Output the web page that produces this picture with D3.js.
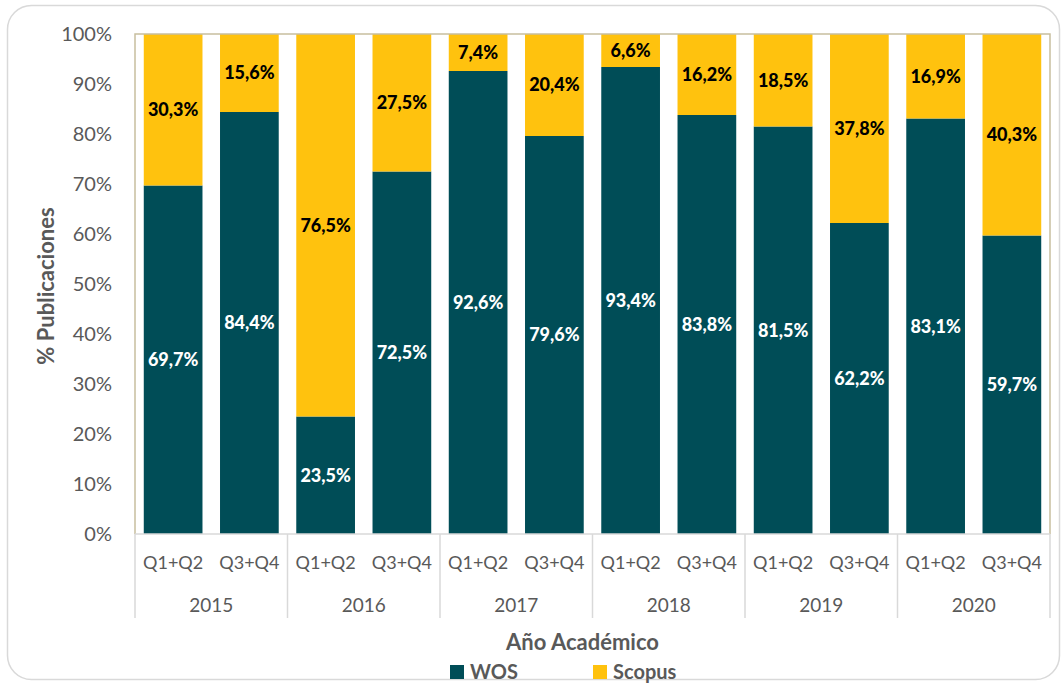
<!DOCTYPE html>
<html><head><meta charset="utf-8">
<script src="https://cdn.jsdelivr.net/npm/d3@7"></script>
<style>html,body{margin:0;padding:0;background:#fff;} text{font-family:Lato,"Open Sans",sans-serif;}</style>
</head><body>
<svg id="c" width="1064" height="684"></svg>
<script>
const years = ["2015","2016","2017","2018","2019","2020"];
const quarters = ["Q1+Q2","Q3+Q4"];
const wos = [69.7, 84.4, 23.5, 72.5, 92.6, 79.6, 93.4, 83.8, 81.5, 62.2, 83.1, 59.7];
const scopus = [30.3, 15.6, 76.5, 27.5, 7.4, 20.4, 6.6, 16.2, 18.5, 37.8, 16.9, 40.3];
const yTicks = [0,10,20,30,40,50,60,70,80,90,100];
const seriesNames = ["WOS","Scopus"];
const colors = ["#004d57","#ffc20e"];

const rows = [];
years.forEach((y,i)=>quarters.forEach((q,j)=>{const k=i*2+j; rows.push({key:k, year:y, q:q, wos:wos[k], scopus:scopus[k]});}));

const svg = d3.select("#c");
const L=135, R=1050, T=34, B=534;

svg.append("rect").attr("x",7.5).attr("y",5.5).attr("width",1052).attr("height",674).attr("rx",24)
  .attr("fill","#fff").attr("stroke","#d9d9d9").attr("stroke-width",1.5);

const x = d3.scaleBand().domain(rows.map(d=>d.key)).range([L,R]).paddingInner(0.23).paddingOuter(0.115);
const y = d3.scaleLinear().domain([0,100]).range([B,T]);

const stack = d3.stack().keys(["wos","scopus"])(rows);

svg.append("g").selectAll("g").data(stack).join("g").attr("fill",(d,i)=>colors[i])
  .selectAll("rect").data(d=>d).join("rect")
  .attr("x",d=>x(d.data.key)).attr("width",x.bandwidth())
  .attr("y",d=>y(d[1])).attr("height",d=>y(d[0])-y(d[1]));

// labels
const fmt = v => v.toFixed(1).replace(".",",")+"%";
stack.forEach((s,i)=>{
  svg.append("g").selectAll("text").data(s).join("text")
    .attr("x",d=>x(d.data.key)+x.bandwidth()/2)
    .attr("y",d=>(y(d[0])+y(d[1]))/2)
    .attr("dy","0.35em").attr("text-anchor","middle")
    .attr("font-size",18).attr("font-weight","900")
    .attr("fill", i===0?"#fff":"#000")
    .text(d=>fmt(d[1]-d[0]));
});

// plot border
svg.append("path").attr("d",`M${L},${B}V${T}H${R}V${B}`).attr("fill","none").attr("stroke","#c8bf9f").attr("stroke-width",1.5);

// y axis
const ya = svg.append("g").attr("transform",`translate(${L},0)`)
  .call(d3.axisLeft(y).tickValues(yTicks).tickFormat(d=>d+"%").tickSize(0).tickPadding(23));
ya.select(".domain").remove();
ya.selectAll("text").attr("font-size",20).attr("fill","#595959").attr("font-family","Lato");

// x axis (two level)
svg.append("line").attr("x1",L).attr("x2",R).attr("y1",B).attr("y2",B).attr("stroke","#d9d9d9").attr("stroke-width",1.5);
const xa = svg.append("g").attr("transform",`translate(0,${B})`)
  .call(d3.axisBottom(x).tickFormat(k=>rows[k].q).tickSize(0).tickPadding(22));
xa.select(".domain").remove();
xa.selectAll("text").attr("font-size",18).attr("fill","#595959").attr("font-family","Lato");

const gx = i => i===0 ? L : (i===years.length ? R : (x(i*2-1)+x.bandwidth()+x(i*2))/2);
svg.append("g").selectAll("line").data(d3.range(years.length+1)).join("line")
  .attr("x1",gx).attr("x2",gx).attr("y1",B).attr("y2",618).attr("stroke","#d9d9d9").attr("stroke-width",1.5);
svg.append("g").selectAll("text").data(years).join("text")
  .attr("x",(d,i)=>(gx(i)+gx(i+1))/2).attr("y",605).attr("dy","0.35em").attr("text-anchor","middle")
  .attr("font-size",19).attr("fill","#595959").text(d=>d);

// axis titles
svg.append("text").attr("transform","translate(46,286) rotate(-90)").attr("text-anchor","middle").attr("dy","0.35em")
  .attr("font-size",22).attr("font-weight","bold").attr("fill","#595959").text("% Publicaciones");
svg.append("text").attr("x",(L+R)/2-10).attr("y",642).attr("dy","0.35em").attr("text-anchor","middle")
  .attr("font-size",22).attr("font-weight","bold").attr("fill","#595959").text("Año Académico");

// legend
const lg = svg.append("g");
const lx = [450, 593];
seriesNames.forEach((n,i)=>{
  lg.append("rect").attr("x",lx[i]).attr("y",665).attr("width",14).attr("height",14).attr("fill",colors[i]);
  lg.append("text").attr("x",lx[i]+20).attr("y",672).attr("dy","0.35em").attr("font-size",20).attr("font-weight","bold").attr("fill","#595959").text(n);
});
</script>
</body></html>
